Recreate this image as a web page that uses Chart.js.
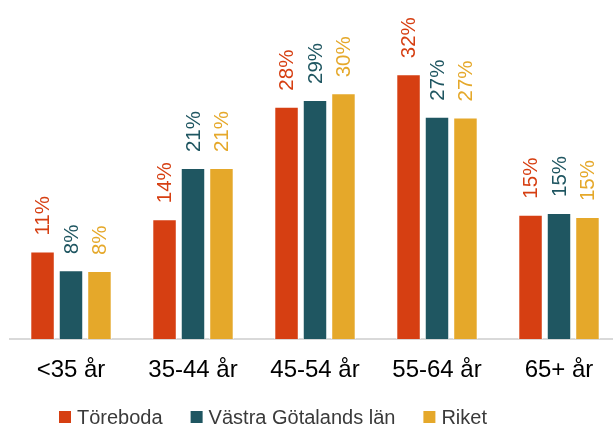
<!DOCTYPE html>
<html>
<head>
<meta charset="utf-8">
<script src="https://cdn.jsdelivr.net/npm/chart.js@4"></script>
<style>
  html, body { margin: 0; padding: 0; background: #fff; overflow: hidden; }
  #wrap { width: 620px; height: 428px; }
</style>
</head>
<body>
<div id="wrap"><canvas id="ageChart"></canvas></div>
<script>
const categories = ['<35 år', '35-44 år', '45-54 år', '55-64 år', '65+ år'];
const toreboda = [10.55, 14.45, 28.0, 31.9, 15.0];
const vastraGotaland = [8.3, 20.6, 28.8, 26.8, 15.2];
const riket = [8.2, 20.6, 29.6, 26.7, 14.7];

const FONT = '"Liberation Sans", Arial, sans-serif';

// rotated percent labels above each bar
const barLabels = {
    id: 'barLabels',
    afterDatasetsDraw(chart) {
        const ctx = chart.ctx;
        chart.data.datasets.forEach((ds, i) => {
            chart.getDatasetMeta(i).data.forEach((bar, j) => {
                ctx.save();
                ctx.translate(bar.x, bar.y - 16);
                ctx.rotate(-Math.PI / 2);
                ctx.font = '20.5px ' + FONT;
                ctx.fillStyle = ds.backgroundColor;
                ctx.textAlign = 'left';
                ctx.textBaseline = 'middle';
                ctx.fillText(Math.round(ds.data[j]) + '%', 0, 1);
                ctx.restore();
            });
        });
    }
};

// legend row at the bottom
const bottomLegend = {
    id: 'bottomLegend',
    afterDraw(chart) {
        const ctx = chart.ctx;
        const box = 12, gapText = 6, gapItem = 28, y = 417;
        ctx.save();
        ctx.font = '20px ' + FONT;
        ctx.textBaseline = 'middle';
        let x = 59;
        chart.data.datasets.forEach(ds => {
            const w = ctx.measureText(ds.label).width;
            ctx.fillStyle = ds.backgroundColor;
            ctx.fillRect(x, y - box / 2, box, box);
            ctx.fillStyle = '#3a3a3a';
            ctx.fillText(ds.label, x + box + gapText, y + 1);
            x += box + gapText + w + gapItem;
        });
        ctx.restore();
    }
};

new Chart(document.getElementById('ageChart'), {
    type: 'bar',
    data: {
        labels: categories,
        datasets: [
            { label: 'Töreboda', data: toreboda, backgroundColor: '#D63F12', borderColor: '#ffffff', borderWidth: 1 },
            { label: 'Västra Götalands län', data: vastraGotaland, backgroundColor: '#1F5661', borderColor: '#ffffff', borderWidth: 1 },
            { label: 'Riket', data: riket, backgroundColor: '#E5A82A', borderColor: '#ffffff', borderWidth: 1 }
        ]
    },
    options: {
        responsive: true,
        maintainAspectRatio: false,
        animation: false,
        categoryPercentage: 0.7,
        barPercentage: 0.86,
        layout: { padding: { top: 7, left: 10, right: 0, bottom: 34 } },
        scales: {
            x: {
                grid: { display: false },
                border: { color: '#d9d9d9', width: 2 },
                ticks: {
                    color: '#000',
                    font: { size: 24, family: FONT },
                    padding: 9
                }
            },
            y: {
                display: false,
                beginAtZero: true,
                max: 40
            }
        },
        plugins: {
            legend: { display: false },
            tooltip: { enabled: false }
        }
    },
    plugins: [barLabels, bottomLegend]
});
</script>
</body>
</html>
